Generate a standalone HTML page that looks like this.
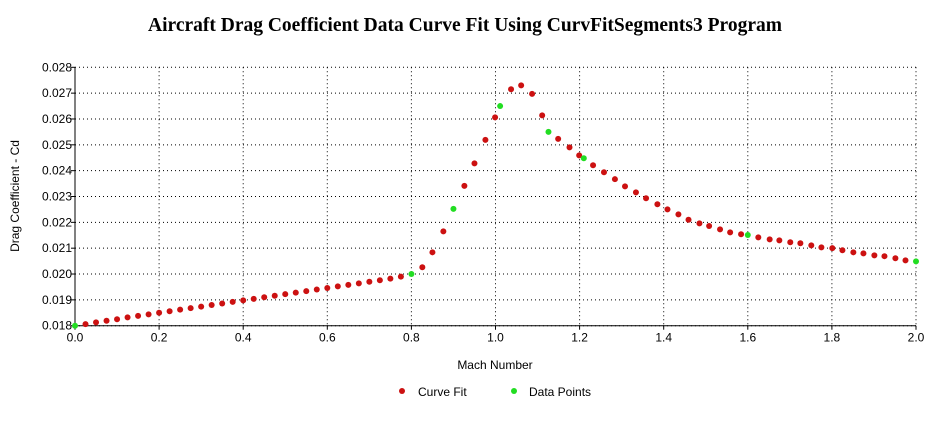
<!DOCTYPE html>
<html><head><meta charset="utf-8"><style>
body{margin:0;background:#fff;width:935px;height:432px;overflow:hidden;font-family:"Liberation Sans",sans-serif}
</style></head><body>
<svg id="c" width="935" height="432" xmlns="http://www.w3.org/2000/svg">
<text x="465" y="31" text-anchor="middle" font-family="Liberation Serif,serif" font-weight="bold" font-size="19.5">Aircraft Drag Coefficient Data Curve Fit Using CurvFitSegments3 Program</text>
<text x="495" y="369" text-anchor="middle" font-size="12">Mach Number</text>
<text transform="translate(19,196) rotate(-90)" text-anchor="middle" font-size="12">Drag Coefficient - Cd</text>
<g>
<circle cx="402" cy="391" r="3" fill="#cc1111"/>
<text x="418" y="396" font-size="12">Curve Fit</text>
<circle cx="514" cy="391" r="3" fill="#22dd22"/>
<text x="529" y="396" font-size="12">Data Points</text>
</g>
<g id="grid"></g><g id="axes"></g><g id="marks"></g>
</svg>
<script>
const xTicks=[0,0.2,0.4,0.6,0.8,1.0,1.2,1.4,1.6,1.8,2.0];
const yTicks=[0.018,0.019,0.020,0.021,0.022,0.023,0.024,0.025,0.026,0.027,0.028];
const fitMach=[0.025,0.05,0.075,0.1,0.125,0.15,0.175,0.2,0.225,0.25,0.275,0.3,0.325,0.35,0.375,0.4,0.425,0.45,0.475,0.5,0.525,0.55,0.575,0.6,0.625,0.65,0.675,0.7,0.725,0.75,0.775,
0.826,0.85,0.876,0.926,0.95,0.976,0.999,1.037,1.061,1.087,1.111,1.149,1.176,1.199,1.232,1.258,1.284,1.308,1.334,1.358,1.385,1.409,1.435,1.459,1.485,1.508,1.534,1.558,1.584,1.625,1.652,1.675,1.701,1.725,1.751,1.775,1.801,1.825,1.851,1.875,1.901,1.925,1.951,1.975];
const fitCd=[0.01806,0.01813,0.01819,0.01825,0.01832,0.01838,0.01844,0.01850,0.01856,0.01862,0.01868,0.01874,0.01880,0.01886,0.01892,0.01898,0.01904,0.01910,0.01916,0.01922,0.01928,0.01934,0.01940,0.01946,0.01952,0.01958,0.01964,0.01970,0.01976,0.01982,0.01990,
0.02026,0.02084,0.02165,0.02341,0.02428,0.02519,0.02606,0.02715,0.02730,0.02697,0.02614,0.02523,0.02490,0.02459,0.02421,0.02394,0.02367,0.02339,0.02316,0.02293,0.02270,0.02250,0.02231,0.02210,0.02196,0.02186,0.02173,0.02161,0.02154,0.02142,0.02134,0.02130,0.02123,0.02119,0.02111,0.02103,0.02100,0.02092,0.02084,0.02080,0.02072,0.02069,0.02061,0.02053];
const dataMach=[0,0.8,0.9,1.011,1.126,1.21,1.6,2.0];
const dataCd=[0.0180,0.0200,0.02252,0.0265,0.0255,0.02448,0.02151,0.02049];
const L=75,R=916,T=67.3,B=325.7;
const sx=v=>L+(v-0)/2*(R-L);
const sy=v=>B-(v-0.018)/0.010*(B-T);
const NS="http://www.w3.org/2000/svg";
function mk(tag,parent,attrs){const e=document.createElementNS(NS,tag);for(const k in attrs)e.setAttribute(k,attrs[k]);document.getElementById(parent).appendChild(e);return e;}
xTicks.forEach(t=>{
 const g=mk('line','grid',{x1:sx(t),x2:sx(t),y1:T,y2:B,stroke:'#000','stroke-dasharray':'1,3','stroke-width':1});
 
 
 const tk=mk('line','axes',{x1:sx(t),x2:sx(t),y1:B,y2:B+4,stroke:'#000'});
 
 
 const tx=mk('text','axes',{x:sx(t),y:B+16,'text-anchor':'middle','font-size':12});
 tx.textContent=t.toFixed(1);
 
 
});
yTicks.forEach(t=>{
 const g=mk('line','grid',{x1:L,x2:R,y1:sy(t),y2:sy(t),stroke:'#000','stroke-dasharray':'1,3','stroke-width':1});
 
 
 const tk=mk('line','axes',{x1:L-4,x2:L,y1:sy(t),y2:sy(t),stroke:'#000'});
 
 
 const tx=mk('text','axes',{x:L-3,y:sy(t)+4,'text-anchor':'end','font-size':12});
 tx.textContent=t.toFixed(3);
 
 
});
const ax=mk('path','axes',{d:`M${L},${T}V${B}H${R}`,stroke:'#000',fill:'none'});


fitMach.forEach((m,i)=>{
 const c=mk('circle','marks',{cx:sx(m),cy:sy(fitCd[i]),r:3,fill:'#cc1111'});
 
 
});
dataMach.forEach((m,i)=>{
 const c=mk('circle','marks',{cx:sx(m),cy:sy(dataCd[i]),r:3,fill:'#22dd22'});
 
 
});
</script>
</body></html>
